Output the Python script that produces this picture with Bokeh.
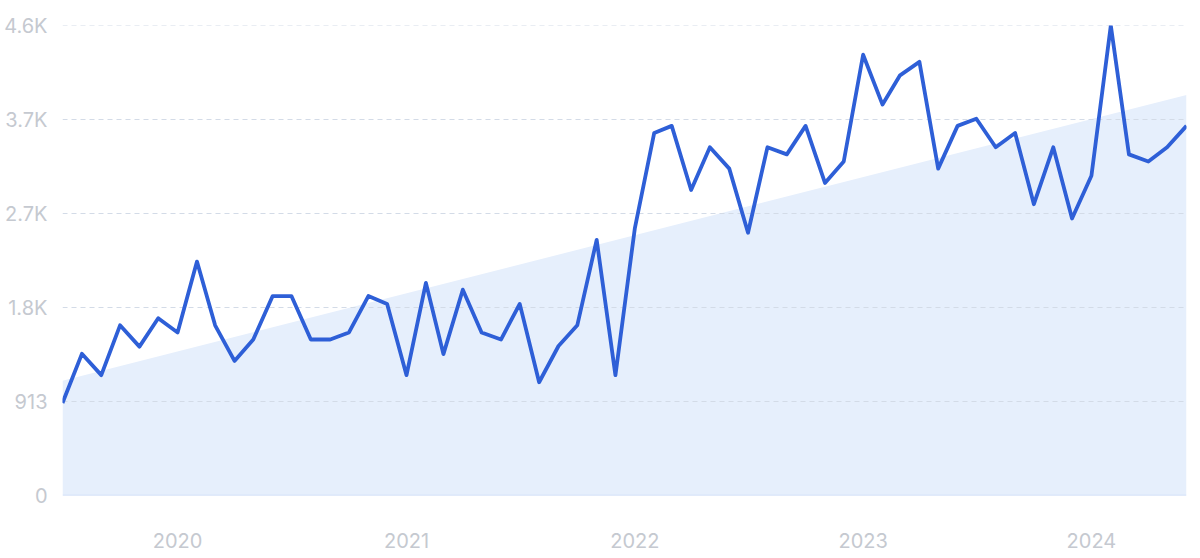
import pandas as pd
from bokeh.plotting import figure
from bokeh.models import FixedTicker, Range1d, DatetimeTickFormatter
from bokeh.embed import file_html
from bokeh.resources import INLINE

# ---- data ----
months = list(pd.date_range("2019-07-01", periods=60, freq="MS"))
searches = [899, 1376, 1169, 1653, 1446, 1722, 1584, 2272, 1653, 1307,
            1515, 1937, 1937, 1515, 1515, 1584, 1937, 1861, 1169, 2065,
            1373, 1999, 1584, 1515, 1861, 1100, 1452, 1653, 2483, 1169,
            2594, 3521, 3590, 2967, 3382, 3175, 2552, 3382, 3313, 3590,
            3036, 3244, 4281, 3797, 4081, 4212, 3175, 3590, 3659, 3382,
            3521, 2829, 3382, 2691, 3105, 4565, 3313, 3244, 3382, 3590]
trend_ends = [1114, 3891]
y_ticks = [0, 913, 1826, 2739, 3652, 4565]
y_tick_labels = ["0", "913", "1.8K", "2.7K", "3.7K", "4.6K"]
year_ticks = ["2020-01-01", "2021-01-01", "2022-01-01", "2023-01-01", "2024-01-01"]

FONT = "Inter"
LABEL_COLOR = "#c5c9d0"

p = figure(frame_width=1124, frame_height=470, output_backend="svg", toolbar_location=None,
           x_axis_type="datetime",
           x_range=Range1d(months[0], months[-1]),
           y_range=Range1d(0, y_ticks[-1]),
           min_border_left=62, min_border_right=12,
           min_border_top=25, min_border_bottom=61)
p.outline_line_color = None
p.background_fill_color = "white"
p.border_fill_color = "white"
p.xgrid.grid_line_color = None
p.ygrid.grid_line_color = None

# trend area
p.varea(x=[months[0], months[-1]], y1=[0, 0], y2=trend_ends,
        fill_color="#e6effc", fill_alpha=1.0)

# dashed gridlines drawn above the area, below the line
p.hspan(y=y_ticks[1:], line_color="#d3dbe7", line_width=1, line_dash="5 4")
# solid baseline
p.hspan(y=y_ticks[:1], line_color="#c9daf5", line_width=1.5)

# main line
p.line(months, searches, line_color="#2e5fd7", line_width=3.8, line_join="round")

# y axis
p.yaxis.ticker = FixedTicker(ticks=y_ticks)
p.yaxis.major_label_overrides = {t: l for t, l in zip(y_ticks, y_tick_labels)}
p.yaxis.axis_line_color = None
p.yaxis.major_tick_line_color = None
p.yaxis.minor_tick_line_color = None
p.yaxis.major_label_standoff = 9
p.yaxis.major_label_text_font = FONT
p.yaxis.major_label_text_font_size = "20px"
p.yaxis.major_label_text_color = LABEL_COLOR

# x axis
p.xaxis.ticker = FixedTicker(ticks=[pd.Timestamp(d).value / 1e6 for d in year_ticks])
p.xaxis.formatter = DatetimeTickFormatter(years="%Y", months="%Y", days="%Y", hours="%Y")
p.xaxis.axis_line_color = None
p.xaxis.major_tick_line_color = None
p.xaxis.minor_tick_line_color = None
p.xaxis.major_label_standoff = 31
p.xaxis.major_label_text_font = FONT
p.xaxis.major_label_text_font_size = "20px"
p.xaxis.major_label_text_color = LABEL_COLOR

open("out.html", "w").write(file_html(p, INLINE))
